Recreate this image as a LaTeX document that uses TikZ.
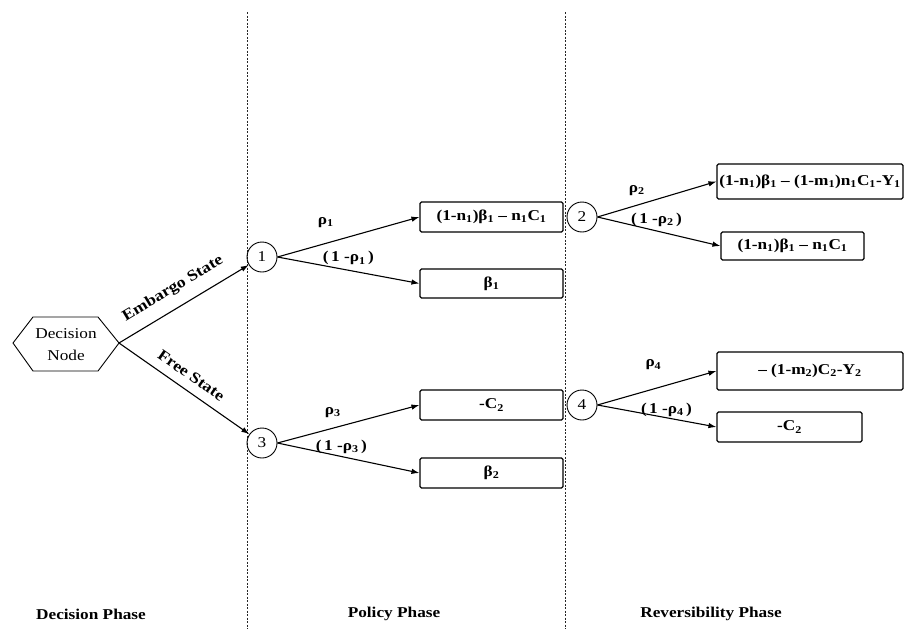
\documentclass[tikz,border=0pt]{standalone}
\usepackage{fontspec}
\setmainfont{Liberation Serif}[FakeStretch=1.15]
\usetikzlibrary{arrows.meta}
\newcommand{\sbs}[1]{\textsubscript{#1}}
\begin{document}
\begin{tikzpicture}[x=1pt,y=-1pt,
  every node/.style={font=\fontsize{15}{17}\selectfont, inner sep=0pt},
  outcome/.style={draw, rounded corners=1.5pt, line width=1.1pt, font=\bfseries\fontsize{15}{17}\selectfont},
  chance/.style={draw, circle, minimum size=30pt, line width=0.9pt},
  branch/.style={line width=1.1pt, -{Latex[length=8pt,width=5.5pt]}},
  prob/.style={font=\bfseries\fontsize{15}{17}\selectfont},
  statelbl/.style={font=\bfseries\fontsize{15.5}{18}\selectfont, sloped, anchor=south},
  phaseline/.style={dash pattern=on 2pt off 1.5pt, line width=1pt, black!85},
  phase/.style={font=\bfseries\fontsize{15}{17}\selectfont}]
\useasboundingbox (0,0) rectangle (905,629);

% phase separators
\draw[phaseline] (247,12) -- (247,629);
\draw[phaseline] (565,12) -- (565,629);

% decision node
\draw[line width=0.9pt] (13,343) -- (33,317) -- (98,317) -- (119,343) -- (98,371) -- (33,371) -- cycle;
\node[align=center, font=\fontsize{15}{22}\selectfont] (dec) at (66,345) {Decision\\Node};
\coordinate (decR) at (119,343);

% chance nodes
\node[chance] (c1) at (262,257) {1};
\node[chance] (c3) at (262,443) {3};
\node[chance] (c2) at (582,217) {2};
\node[chance] (c4) at (582,405) {4};

% policy outcomes
\node[outcome, minimum width=143pt, minimum height=30pt] (b1) at (491.5,217) {(1-n\sbs{1})β\sbs{1} – n\sbs{1}C\sbs{1}};
\node[outcome, minimum width=143pt, minimum height=29pt] (b2) at (491.5,283.5) {β\sbs{1}};
\node[outcome, minimum width=143pt, minimum height=30pt] (b3) at (491.5,405) {-C\sbs{2}};
\node[outcome, minimum width=143pt, minimum height=30pt] (b4) at (491.5,473) {β\sbs{2}};

% reversibility outcomes
\node[outcome, minimum width=186pt, minimum height=35pt] (r1) at (810,181.5) {(1-n\sbs{1})β\sbs{1} – (1-m\sbs{1})n\sbs{1}C\sbs{1}-Y\sbs{1}};
\node[outcome, minimum width=143pt, minimum height=28pt] (r2) at (792.5,246) {(1-n\sbs{1})β\sbs{1} – n\sbs{1}C\sbs{1}};
\node[outcome, minimum width=186pt, minimum height=38pt] (r3) at (810,371) {– (1-m\sbs{2})C\sbs{2}-Y\sbs{2}};
\node[outcome, minimum width=145pt, minimum height=30pt] (r4) at (789.5,427) {-C\sbs{2}};

% decision branches
\draw[branch] (decR) -- node[statelbl, pos=0.49, yshift=11pt] {Embargo State} (c1);
\draw[branch] (decR) -- node[statelbl, pos=0.49, yshift=9pt] {Free State} (c3);

% policy branches
\draw[branch] (c1.east) -- node[prob, pos=0.34, yshift=21pt] {ρ\sbs{1}} (b1.west);
\draw[branch] (c1.east) -- node[prob, pos=0.5, yshift=12pt] {(\,1 -ρ\sbs{1}\,)} (b2.west);
\draw[branch] (c3.east) -- node[prob, pos=0.39, yshift=16pt] {ρ\sbs{3}} (b3.west);
\draw[branch] (c3.east) -- node[prob, pos=0.45, yshift=10pt] {(\,1 -ρ\sbs{3}\,)} (b4.west);

% reversibility branches
\draw[branch] (c2.east) -- node[prob, pos=0.33, yshift=15pt] {ρ\sbs{2}} (r1.west);
\draw[branch] (c2.east) -- node[prob, pos=0.48, yshift=11pt] {(\,1 -ρ\sbs{2}\,)} (r2.west);
\draw[branch] (c4.east) -- node[prob, pos=0.47, yshift=24pt] {ρ\sbs{4}} (r3.west);
\draw[branch] (c4.east) -- node[prob, pos=0.58, yshift=8pt] {(\,1 -ρ\sbs{4}\,)} (r4.west);

% phase labels
\node[phase] (p1) at (91,614) {Decision Phase};
\node[phase] (p2) at (394,614) {Policy Phase};
\node[phase] (p3) at (711,614) {Reversibility Phase};
\end{tikzpicture}
\end{document}
